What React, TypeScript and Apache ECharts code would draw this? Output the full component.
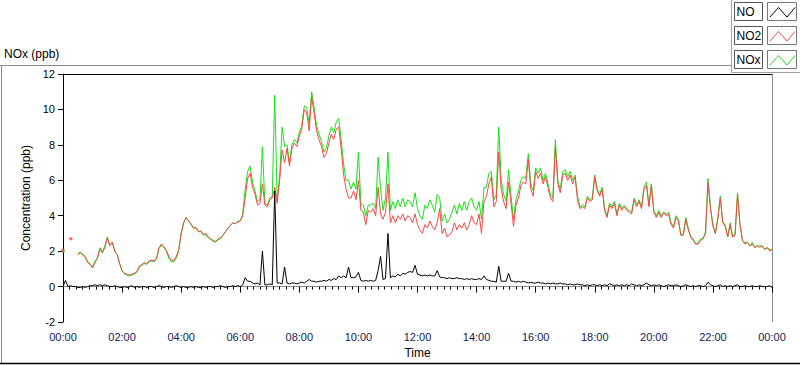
import React, { useEffect, useRef } from "react";
import * as echarts from "echarts";

// ---- data (5-minute samples from 00:00 to 24:00) ----
const STEP_MINUTES = 5;
const X_TICK_LABELS = ["00:00", "02:00", "04:00", "06:00", "08:00", "10:00", "12:00", "14:00", "16:00", "18:00", "20:00", "22:00", "00:00"];
const SERIES_NAMES = ["NO", "NO2", "NOx"];
const SERIES_COLORS = ["#000000", "#ff4444", "#14e614"];

const no2Values: (number | null)[] = [
  null, null, null, null, null, null, 1.8, 1.9, 1.8, 1.65, 1.35, 1.25,
  1.05, 1.35, 1.6, 2.1, 1.9, 2.2, 2.75, 2.3, 2.5, 2.0, 1.8, 1.3,
  0.9, 0.75, 0.7, 0.65, 0.7, 0.75, 0.85, 1.15, 1.25, 1.35, 1.3, 1.45,
  1.5, 1.45, 1.6, 2.2, 2.4, 2.25, 2.05, 1.7, 1.5, 1.45, 1.7, 2.1,
  3.0, 3.6, 3.9, 3.7, 3.55, 3.3, 3.35, 3.1, 3.15, 2.95, 3.0, 2.8,
  2.7, 2.6, 2.55, 2.7, 2.75, 2.9, 3.1, 3.3, 3.45, 3.6, 3.55, 3.65,
  3.7, 4.0, 5.0, 6.1, 6.4, 5.6, 5.2, 4.6, 4.7, 5.8, 4.6, 4.5,
  4.9, 5.0, 5.6, 4.7, 6.0, 7.7, 7.0, 7.8, 6.8, 7.8, 8.1, 7.9,
  8.5, 8.9, 10.0, 9.8, 8.8, 10.7, 9.8, 8.8, 8.3, 7.9, 7.3, 7.5,
  8.1, 8.6, 8.3, 8.9, 9.0, 7.8, 6.3, 5.5, 5.0, 5.0, 5.4, 4.9,
  6.0, 4.3, 4.2, 3.5, 4.3, 4.2, 4.4, 4.0, 5.6, 4.1, 3.8, 4.2,
  5.8, 3.6, 4.0, 3.6, 4.0, 3.8, 4.1, 3.7, 4.0, 3.9, 3.6, 4.1,
  3.5, 3.2, 3.0, 3.5, 3.3, 3.7, 3.4, 3.2, 3.6, 4.4, 3.0, 3.3,
  2.8, 2.9, 3.1, 3.6, 3.2, 3.5, 3.3, 3.6, 3.2, 3.5, 4.0, 3.6,
  3.5, 4.1, 3.0, 4.8, 5.1, 5.8, 6.2, 4.5, 4.8, 7.6, 5.5, 4.8,
  4.4, 5.9, 4.7, 3.4, 4.6, 5.0, 5.7, 5.9, 5.8, 7.2, 5.5, 5.1,
  6.5, 6.1, 6.4, 5.8, 6.2, 5.6, 5.0, 4.8, 7.9, 5.8, 5.3, 6.3,
  6.4, 6.0, 6.3, 5.8, 6.2, 4.9, 4.4, 4.5, 4.4, 5.0, 4.8, 4.9,
  6.2, 5.4, 5.1, 5.5, 4.3, 3.9, 4.6, 4.4, 4.7, 4.0, 4.6, 4.3,
  4.5, 4.3, 4.2, 4.1, 4.9, 4.5, 4.8, 4.4, 5.5, 5.7, 4.5, 5.7,
  4.2, 3.9, 4.2, 3.9, 4.2, 4.0, 4.1, 3.5, 3.3, 3.9, 3.7, 2.9,
  2.9, 3.8, 3.2, 2.8, 2.6, 2.4, 2.4, 2.6, 2.7, 3.0, 5.9, 4.4,
  3.4, 3.0, 3.8, 5.0, 3.6, 3.4, 2.8, 3.5, 2.8, 2.9, 5.2, 3.5,
  2.6, 2.4, 2.5, 2.3, 2.4, 2.2, 2.3, 2.2, 2.3, 2.1, 2.2, 2.0,
  2.1,
];

const noxValues: (number | null)[] = [
  null, null, null, null, null, null, 1.85, 1.95, 1.85, 1.7, 1.4, 1.3,
  1.1, 1.45, 1.65, 2.2, 1.95, 2.3, 2.8, 2.35, 2.5, 2.05, 1.8, 1.3,
  0.9, 0.7, 0.65, 0.6, 0.65, 0.7, 0.8, 1.1, 1.2, 1.3, 1.25, 1.4,
  1.45, 1.4, 1.55, 2.15, 2.35, 2.2, 2.0, 1.6, 1.4, 1.4, 1.6, 2.0,
  3.0, 3.6, 3.9, 3.7, 3.5, 3.3, 3.3, 3.1, 3.1, 2.9, 2.95, 2.75,
  2.65, 2.55, 2.5, 2.65, 2.7, 2.9, 3.1, 3.3, 3.45, 3.6, 3.55, 3.7,
  3.7, 4.1, 5.5, 6.5, 6.8, 5.9, 5.4, 4.8, 4.9, 7.9, 4.7, 4.6,
  5.0, 5.1, 10.8, 4.9, 6.2, 9.0, 7.9, 8.0, 7.0, 8.0, 8.3, 8.1,
  8.7, 9.1, 10.2, 10.1, 9.2, 11.0, 10.1, 9.1, 8.6, 8.2, 7.6, 7.8,
  8.5, 9.0, 8.7, 9.3, 9.5, 8.3, 6.9, 6.0, 6.0, 5.5, 5.9, 5.5,
  7.6, 4.7, 4.6, 4.0, 4.6, 4.6, 4.7, 4.4, 7.3, 5.5, 4.3, 5.0,
  7.6, 4.3, 4.8, 4.4, 4.9, 4.5, 5.0, 4.5, 4.9, 4.8, 4.5, 5.3,
  4.4, 4.0, 3.8, 4.6, 4.4, 4.9, 4.6, 4.2, 5.2, 5.0, 3.7, 4.1,
  3.6, 3.8, 4.2, 4.6, 4.1, 4.7, 4.3, 4.8, 4.3, 4.8, 5.0, 4.5,
  4.3, 4.8, 3.8, 5.6, 5.6, 6.4, 6.5, 4.9, 5.2, 9.0, 6.0, 5.2,
  4.8, 6.6, 5.1, 3.8, 4.9, 5.4, 6.0, 6.2, 6.1, 7.5, 5.8, 5.4,
  6.7, 6.4, 6.7, 6.0, 6.4, 5.8, 5.2, 5.0, 8.3, 6.0, 5.5, 6.5,
  6.6, 6.2, 6.5, 6.0, 6.3, 5.1, 4.5, 4.6, 4.5, 5.1, 4.9, 5.0,
  6.3, 5.5, 5.2, 5.6, 4.4, 4.0, 4.7, 4.5, 4.8, 4.1, 4.7, 4.4,
  4.6, 4.4, 4.3, 4.2, 5.0, 4.6, 4.9, 4.5, 5.6, 5.9, 4.6, 5.8,
  4.3, 4.0, 4.3, 4.0, 4.2, 4.1, 4.2, 3.6, 3.4, 4.0, 3.8, 2.9,
  3.0, 3.9, 3.3, 2.8, 2.7, 2.4, 2.5, 2.7, 2.7, 3.1, 6.1, 4.5,
  3.5, 3.0, 3.9, 5.1, 3.6, 3.5, 2.8, 3.6, 2.8, 3.0, 5.3, 3.5,
  2.6, 2.5, 2.5, 2.3, 2.5, 2.2, 2.3, 2.3, 2.3, 2.1, 2.2, 2.1,
  2.1,
];

const noValues: number[] = [
  0.0, 0.35, 0.0, 0.05, 0.0, 0.0, -0.05, -0.05, 0.0, -0.05, 0.0, 0.05,
  0.05, 0.1, 0.05, 0.1, 0.05, 0.1, 0.05, 0.0, 0.0, 0.05, 0.0, -0.05,
  -0.05, 0.0, -0.05, 0.0, 0.05, -0.05, 0.0, -0.05, 0.0, 0.0, -0.05, 0.0,
  0.0, -0.05, 0.0, 0.05, 0.0, -0.05, 0.0, 0.0, -0.05, 0.0, 0.05, 0.0,
  -0.05, 0.0, -0.05, -0.05, 0.0, -0.05, 0.0, -0.05, -0.05, 0.0, -0.05, 0.0,
  0.0, -0.05, 0.0, 0.0, 0.05, 0.0, -0.05, 0.0, 0.0, 0.05, 0.0, 0.05,
  0.0, 0.1, 0.5, 0.3, 0.3, 0.2, 0.15, 0.2, 0.1, 2.0, 0.1, 0.1,
  0.15, 0.1, 5.4, 0.2, 0.2, 0.15, 1.1, 0.2, 0.15, 0.2, 0.2, 0.15,
  0.2, 0.25, 0.2, 0.3, 0.4, 0.3, 0.3, 0.25, 0.3, 0.3, 0.35, 0.3,
  0.4, 0.35, 0.45, 0.4, 0.6, 0.5, 0.6, 0.5, 1.1, 0.5, 0.5, 0.55,
  0.8, 0.35, 0.3, 0.35, 0.3, 0.35, 0.3, 0.35, 0.9, 1.7, 0.4, 0.45,
  3.0, 0.5, 0.6, 0.55, 0.7, 0.6, 0.75, 0.7, 0.8, 0.85, 0.8, 1.2,
  0.7, 0.65, 0.6, 0.65, 0.6, 0.65, 0.6, 0.6, 0.9, 0.55, 0.5, 0.5,
  0.45, 0.5, 0.45, 0.45, 0.5, 0.45, 0.45, 0.4, 0.45, 0.4, 0.45, 0.4,
  0.4, 0.45, 0.4, 0.6, 0.4, 0.35, 0.3, 0.3, 0.25, 1.15, 0.3, 0.3,
  0.3, 0.75, 0.3, 0.3, 0.25, 0.3, 0.25, 0.3, 0.25, 0.2, 0.25, 0.2,
  0.2, 0.25, 0.2, 0.2, 0.15, 0.2, 0.15, 0.2, 0.15, 0.15, 0.2, 0.15,
  0.15, 0.1, 0.15, 0.1, 0.1, 0.15, 0.1, 0.1, 0.05, 0.1, 0.05, 0.1,
  0.1, 0.05, 0.1, 0.05, 0.1, 0.05, 0.15, 0.1, 0.05, 0.1, 0.05, 0.1,
  0.05, 0.1, 0.05, 0.15, 0.1, 0.05, 0.1, 0.05, 0.1, 0.2, 0.1, 0.05,
  0.1, 0.05, 0.1, 0.05, 0.0, 0.05, 0.1, 0.05, 0.05, 0.1, 0.05, 0.0,
  0.05, 0.1, 0.05, 0.0, 0.05, 0.0, 0.05, 0.05, 0.0, 0.05, 0.25, 0.1,
  0.05, 0.0, 0.05, 0.1, 0.0, 0.05, 0.0, 0.05, 0.0, 0.05, 0.1, 0.0,
  0.0, 0.05, 0.0, 0.0, 0.05, 0.0, 0.0, 0.05, 0.0, 0.0, 0.0, 0.05,
  -0.05,
];

// isolated samples before the continuous record starts ([minute, ppb])
const no2IsolatedPoints = [[0, 2.05], [16, 2.7]];
const noxIsolatedPoints = [[0, 2.0]];

const FONT = "Liberation Sans";

function toPairs(values: (number | null)[]) {
  return values.map((v, i) => [i * STEP_MINUTES, v === null ? "-" : v]);
}

export default function App() {
  const ref = useRef<HTMLDivElement>(null);

  useEffect(() => {
    if (!ref.current) return;
    const chart = echarts.init(ref.current, undefined, { renderer: "svg" });

    const legendGraphics: any[] = [];
    const legendTops = [2, 26, 50];
    SERIES_NAMES.forEach((name, i) => {
      const y0 = legendTops[i];
      legendGraphics.push({
        type: "rect",
        shape: { x: 734.5, y: y0 + 0.5, width: 28, height: 18 },
        style: { fill: "#fff", stroke: "#555", lineWidth: 1 },
        silent: true,
      });
      legendGraphics.push({
        type: "text",
        x: 736.5,
        y: y0 + 10,
        style: { text: name, fill: "#000", font: `12px "${FONT}"`, verticalAlign: "middle", align: "left" },
        silent: true,
      });
      legendGraphics.push({
        type: "rect",
        shape: { x: 767.5, y: y0 + 0.5, width: 29, height: 18 },
        style: { fill: "#fff", stroke: "#777", lineWidth: 1 },
        silent: true,
      });
      legendGraphics.push({
        type: "polyline",
        shape: { points: [[770, y0 + 15], [778.5, y0 + 5.5], [787, y0 + 15], [795, y0 + 5.5]] },
        style: { stroke: SERIES_COLORS[i], lineWidth: 1, fill: "none" },
        silent: true,
      });
    });

    const option: any = {
      animation: false,
      backgroundColor: "#fff",
      textStyle: { fontFamily: FONT },
      grid: { left: 63, right: 28, top: 74, bottom: 43, containLabel: false },
      xAxis: {
        type: "value",
        min: 0,
        max: 1440,
        interval: 120,
        name: "Time",
        nameLocation: "middle",
        nameGap: 25,
        nameTextStyle: { color: "#000", fontSize: 12, fontFamily: FONT },
        axisLine: { show: true, lineStyle: { color: "#8a8a8a", width: 1 } },
        axisTick: { show: true, length: 6, lineStyle: { color: "#000" } },
        minorTick: { show: true, splitNumber: 9, length: 3, lineStyle: { color: "#000" } },
        axisLabel: {
          color: "#10205a",
          fontSize: 11,
          fontFamily: FONT,
          margin: 9,
          formatter: (v: number) => X_TICK_LABELS[Math.round(v / 120)] ?? "",
        },
        splitLine: { show: false },
        minorSplitLine: { show: false },
      },
      yAxis: {
        type: "value",
        min: -2,
        max: 12,
        interval: 2,
        name: "Concentration (ppb)",
        nameLocation: "middle",
        nameRotate: 90,
        nameGap: 26,
        nameTextStyle: { color: "#000", fontSize: 12, fontFamily: FONT },
        axisLine: { show: true, lineStyle: { color: "#000", width: 1 } },
        axisTick: { show: true, length: 5, lineStyle: { color: "#000" } },
        axisLabel: { color: "#000", fontSize: 11, fontFamily: FONT, margin: 8 },
        splitLine: { show: false },
      },
      series: [
        {
          name: SERIES_NAMES[2],
          type: "line",
          data: toPairs(noxValues),
          showSymbol: false,
          lineStyle: { color: SERIES_COLORS[2], width: 1 },
          itemStyle: { color: SERIES_COLORS[2] },
          silent: true,
          z: 2,
        },
        {
          name: SERIES_NAMES[1],
          type: "line",
          data: toPairs(no2Values),
          showSymbol: false,
          lineStyle: { color: SERIES_COLORS[1], width: 1 },
          itemStyle: { color: SERIES_COLORS[1] },
          silent: true,
          z: 3,
        },
        {
          name: SERIES_NAMES[0],
          type: "line",
          data: toPairs(noValues),
          showSymbol: false,
          lineStyle: { color: SERIES_COLORS[0], width: 1 },
          itemStyle: { color: SERIES_COLORS[0] },
          silent: true,
          z: 4,
        },
        {
          name: SERIES_NAMES[2] + " start",
          type: "scatter",
          data: noxIsolatedPoints,
          symbol: "rect",
          symbolSize: 3,
          itemStyle: { color: SERIES_COLORS[2] },
          silent: true,
          z: 2,
        },
        {
          name: SERIES_NAMES[1] + " start",
          type: "scatter",
          data: no2IsolatedPoints,
          symbol: "rect",
          symbolSize: 3,
          itemStyle: { color: SERIES_COLORS[1] },
          silent: true,
          z: 3,
        },
      ],
      graphic: [
        {
          type: "text",
          x: 4,
          y: 48,
          style: { text: "NOx (ppb)", fill: "#000", font: `12px "${FONT}"` },
          silent: true,
        },
        { type: "line", shape: { x1: 0, y1: 65.5, x2: 731, y2: 65.5 }, style: { stroke: "#8a8a8a", lineWidth: 1 }, silent: true },
        { type: "line", shape: { x1: 1.5, y1: 65, x2: 1.5, y2: 363 }, style: { stroke: "#8a8a8a", lineWidth: 1 }, silent: true },
        { type: "line", shape: { x1: 0, y1: 363.5, x2: 800, y2: 363.5 }, style: { stroke: "#000", lineWidth: 1.5 }, silent: true },
        { type: "line", shape: { x1: 63, y1: 74.5, x2: 772, y2: 74.5 }, style: { stroke: "#000", lineWidth: 1 }, silent: true },
        { type: "line", shape: { x1: 772.5, y1: 74, x2: 772.5, y2: 322 }, style: { stroke: "#8a8a8a", lineWidth: 1 }, silent: true },
        { type: "line", shape: { x1: 731.5, y1: 0, x2: 731.5, y2: 72 }, style: { stroke: "#a0a0a0", lineWidth: 1 }, silent: true },
        { type: "line", shape: { x1: 731, y1: 72.5, x2: 800, y2: 72.5 }, style: { stroke: "#a0a0a0", lineWidth: 1 }, silent: true },
        ...legendGraphics,
      ],
    };

    chart.setOption(option);
    return () => chart.dispose();
  }, []);

  return (
    <div
      ref={ref}
      style={{ position: "absolute", left: 0, top: 0, width: 800, height: 365 }}
    />
  );
}
